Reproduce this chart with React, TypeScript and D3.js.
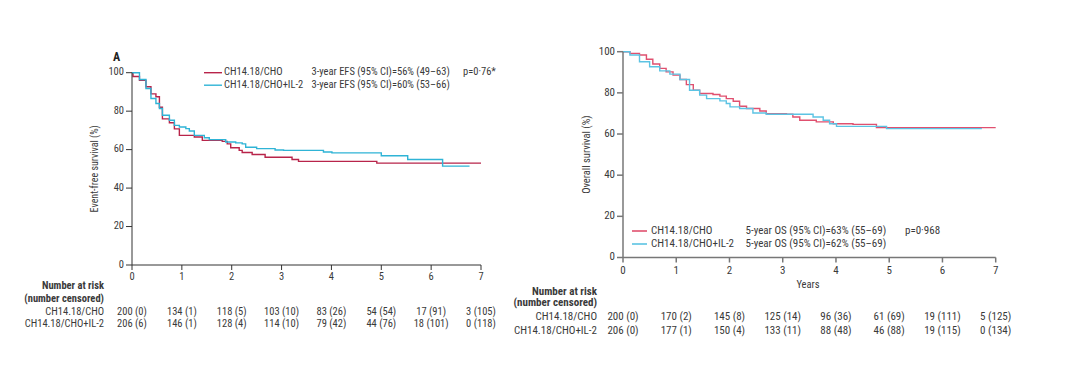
import React from "react";
import * as d3 from "d3";

// ---------- Data ----------
const years = [0, 1, 2, 3, 4, 5, 6, 7];
const yTicks = [0, 20, 40, 60, 80, 100];

// Panel A: event-free survival (years, %)
const efsChoT = [0, 0.02, 0.15, 0.28, 0.38, 0.48, 0.55, 0.61, 0.75, 0.85, 0.95, 1.15, 1.25, 1.41, 1.61, 1.81, 1.91, 1.98, 2.15, 2.21, 2.41, 2.67, 3.21, 3.34, 4.91, 7.0];
const efsChoV = [100, 98, 96, 92.7, 89, 87.5, 82, 76, 74, 70.8, 67.4, 67.4, 66.6, 64.8, 64.8, 64.3, 63, 61, 59.6, 58.5, 57.5, 56.0, 54.9, 53.9, 53.0, 53.0];
const efsIl2T = [0, 0.15, 0.28, 0.38, 0.48, 0.55, 0.61, 0.75, 0.85, 0.95, 1.08, 1.15, 1.25, 1.45, 1.55, 1.88, 2.08, 2.21, 2.28, 2.5, 2.87, 3.04, 3.84, 4.01, 5.0, 5.53, 6.23, 6.77];
const efsIl2V = [100, 96.5, 91.8, 86.6, 84, 81.4, 77.9, 75.3, 72.6, 71.8, 70.9, 69.7, 67.4, 66.2, 65.2, 64, 63.5, 63, 61.2, 60.5, 59.8, 59.6, 58.8, 58.3, 56.8, 54.9, 51.4, 51.4];

// Panel B: overall survival (years, %)
const osChoT = [0, 0.13, 0.31, 0.44, 0.56, 0.69, 0.81, 0.94, 1.07, 1.19, 1.32, 1.44, 1.69, 1.82, 1.94, 2.07, 2.19, 2.32, 2.57, 2.69, 3.07, 3.19, 3.32, 3.63, 3.95, 4.32, 4.76, 7.0];
const osChoV = [100, 99.2, 98.4, 96.3, 94, 91.9, 90.2, 88.6, 86.5, 84, 81.3, 79.7, 79.2, 78.4, 77.2, 75.9, 73.5, 72.4, 71.2, 69.9, 69.6, 68.3, 66.7, 65.9, 65, 64.7, 63.1, 63.1];
const osIl2T = [0, 0.13, 0.31, 0.5, 0.69, 0.88, 1.07, 1.25, 1.44, 1.57, 1.82, 1.94, 2.01, 2.19, 2.44, 2.69, 3.32, 3.57, 3.76, 3.88, 4.01, 4.95, 6.74];
const osIl2V = [100, 98.4, 95.1, 92.7, 90.7, 89.1, 86.5, 81.3, 78.9, 77.2, 76.1, 74.8, 73.2, 72.4, 70.2, 69.6, 69.6, 68.3, 66.7, 65, 63.7, 62.6, 62.6];

// Numbers at risk (number censored)
const efsChoRisk = [200, 134, 118, 103, 83, 54, 17, 3];
const efsChoCens = [0, 1, 5, 10, 26, 54, 91, 105];
const efsIl2Risk = [206, 146, 128, 114, 79, 44, 18, 0];
const efsIl2Cens = [6, 1, 4, 10, 42, 76, 101, 118];
const osChoRisk = [200, 170, 145, 125, 96, 61, 19, 5];
const osChoCens = [0, 2, 8, 14, 36, 69, 111, 125];
const osIl2Risk = [206, 177, 150, 133, 88, 46, 19, 0];
const osIl2Cens = [0, 1, 4, 11, 48, 88, 115, 134];

const groups = ["CH14.18/CHO", "CH14.18/CHO+IL-2"];
const efsStats = ["3-year EFS (95% CI)=56% (49–63)", "3-year EFS (95% CI)=60% (53–66)"];
const osStats = ["5-year OS (95% CI)=63% (55–69)", "5-year OS (95% CI)=62% (55–69)"];

const FONT = "'Liberation Sans Narrow', 'Arial Narrow', 'Roboto Condensed', 'Liberation Sans', sans-serif";
const TXT = "#3a3a3a";

function zip(t: number[], v: number[]) {
  return t.map((x, i) => [x, v[i]] as [number, number]);
}

type PanelProps = {
  x0: number; x1: number; yTop: number; yBot: number;
  axisColor: string; axisW: number;
  curves: { data: [number, number][]; color: string }[];
  yLabel: string; yLabelX: number;
  tickLabelY: number;
  fontSize: number;
};

function Panel(p: PanelProps) {
  const x = d3.scaleLinear().domain([0, 7]).range([p.x0, p.x1]);
  const y = d3.scaleLinear().domain([0, 100]).range([p.yBot, p.yTop]);
  const line = d3.line<[number, number]>().x(d => x(d[0])).y(d => y(d[1])).curve(d3.curveStepAfter);
  return (
    <g>
      {p.curves.map((c, i) => (
        <path key={i} d={line(c.data) || ""} fill="none" stroke={c.color} strokeWidth={1.4} />
      ))}
      <line x1={p.x0} x2={p.x0} y1={p.yTop} y2={p.yBot} stroke={p.axisColor} strokeWidth={p.axisW} />
      <line x1={p.x0} x2={p.x1} y1={p.yBot} y2={p.yBot} stroke={p.axisColor} strokeWidth={p.axisW} />
      {yTicks.map(t => (
        <g key={"y" + t}>
          <line x1={p.x0 - 6} x2={p.x0} y1={y(t)} y2={y(t)} stroke={p.axisColor} strokeWidth={p.axisW} />
          <text x={p.x0 - 8} y={y(t)} textAnchor="end" dominantBaseline="middle" fontSize={p.fontSize} fill={TXT}>{t}</text>
        </g>
      ))}
      {years.map(t => (
        <g key={"x" + t}>
          <line x1={x(t)} x2={x(t)} y1={p.yBot} y2={p.yBot + 5} stroke={p.axisColor} strokeWidth={p.axisW} />
          <text x={x(t)} y={p.tickLabelY} textAnchor="middle" dominantBaseline="middle" fontSize={p.fontSize} fill={TXT}>{t}</text>
        </g>
      ))}
      <text transform={`translate(${p.yLabelX},${(p.yTop + p.yBot) / 2}) rotate(-90)`} textAnchor="middle" dominantBaseline="middle" fontSize={p.fontSize - 0.5} fill={TXT}>{p.yLabel}</text>
    </g>
  );
}

function RiskTable(props: { x0: number; x1: number; labelX: number; ys: number[]; risk: number[][]; cens: number[][]; fontSize: number }) {
  const x = d3.scaleLinear().domain([0, 7]).range([props.x0, props.x1]);
  const { ys, fontSize } = props;
  return (
    <g fontSize={fontSize} fill={TXT}>
      <text x={props.labelX} y={ys[0]} textAnchor="end" dominantBaseline="middle" fontWeight="bold">Number at risk</text>
      <text x={props.labelX} y={ys[1]} textAnchor="end" dominantBaseline="middle" fontWeight="bold">(number censored)</text>
      {groups.map((g, gi) => (
        <g key={g}>
          <text x={props.labelX} y={ys[2 + gi]} textAnchor="end" dominantBaseline="middle">{g}</text>
          {years.map((t, i) => (
            <text key={t} x={x(t)} y={ys[2 + gi]} textAnchor="middle" dominantBaseline="middle">
              {`${props.risk[gi][i]} (${props.cens[gi][i]})`}
            </text>
          ))}
        </g>
      ))}
    </g>
  );
}

export default function App() {
  const redA = "#b8244a";
  const blueA = "#2fb4d6";
  const redB = "#e0506f";
  const blueB = "#5cc3e3";
  return (
    <svg width={1080} height={377} style={{ position: "absolute", left: 0, top: 0, background: "#fff" }} fontFamily={FONT}>
      {/* Panel A */}
      <text x={113} y={58} dominantBaseline="middle" fontSize={12} fontWeight="bold" fill="#222">A</text>
      <Panel x0={132} x1={481} yTop={72.7} yBot={265} axisColor="#333" axisW={1}
        curves={[{ data: zip(efsChoT, efsChoV), color: redA }, { data: zip(efsIl2T, efsIl2V), color: blueA }]}
        yLabel="Event-free survival (%)" yLabelX={95} tickLabelY={277.5} fontSize={10.5} />
      <g fontSize={10.5} fill={TXT}>
        {groups.map((g, i) => (
          <g key={g}>
            <line x1={204} x2={222} y1={72.7 + i * 12.5} y2={72.7 + i * 12.5} stroke={i === 0 ? redA : blueA} strokeWidth={1.4} />
            <text x={224} y={72.7 + i * 12.5} dominantBaseline="middle">{g}</text>
            <text x={311.5} y={72.7 + i * 12.5} dominantBaseline="middle">{efsStats[i]}</text>
          </g>
        ))}
        <text x={463} y={72.7} dominantBaseline="middle">p=0·76*</text>
      </g>
      <RiskTable x0={132} x1={481} labelX={104} ys={[286, 299, 312, 324.5]}
        risk={[efsChoRisk, efsIl2Risk]} cens={[efsChoCens, efsIl2Cens]} fontSize={10.5} />

      {/* Panel B */}
      <Panel x0={623} x1={995.7} yTop={51.7} yBot={257.5} axisColor="#777" axisW={1.5}
        curves={[{ data: zip(osChoT, osChoV), color: redB }, { data: zip(osIl2T, osIl2V), color: blueB }]}
        yLabel="Overall survival (%)" yLabelX={587} tickLabelY={271.5} fontSize={11} />
      <text x={808} y={285} textAnchor="middle" dominantBaseline="middle" fontSize={10.5} fill={TXT}>Years</text>
      <g fontSize={11} fill={TXT}>
        {groups.map((g, i) => (
          <g key={g}>
            <line x1={632} x2={647} y1={231 + i * 13} y2={231 + i * 13} stroke={i === 0 ? redB : blueB} strokeWidth={1.6} />
            <text x={651} y={231 + i * 13} dominantBaseline="middle">{g}</text>
            <text x={745.5} y={231 + i * 13} dominantBaseline="middle">{osStats[i]}</text>
          </g>
        ))}
        <text x={905} y={231} dominantBaseline="middle">p=0·968</text>
      </g>
      <RiskTable x0={623} x1={995.7} labelX={597} ys={[292, 303.5, 317.5, 331.5]}
        risk={[osChoRisk, osIl2Risk]} cens={[osChoCens, osIl2Cens]} fontSize={11} />
    </svg>
  );
}
